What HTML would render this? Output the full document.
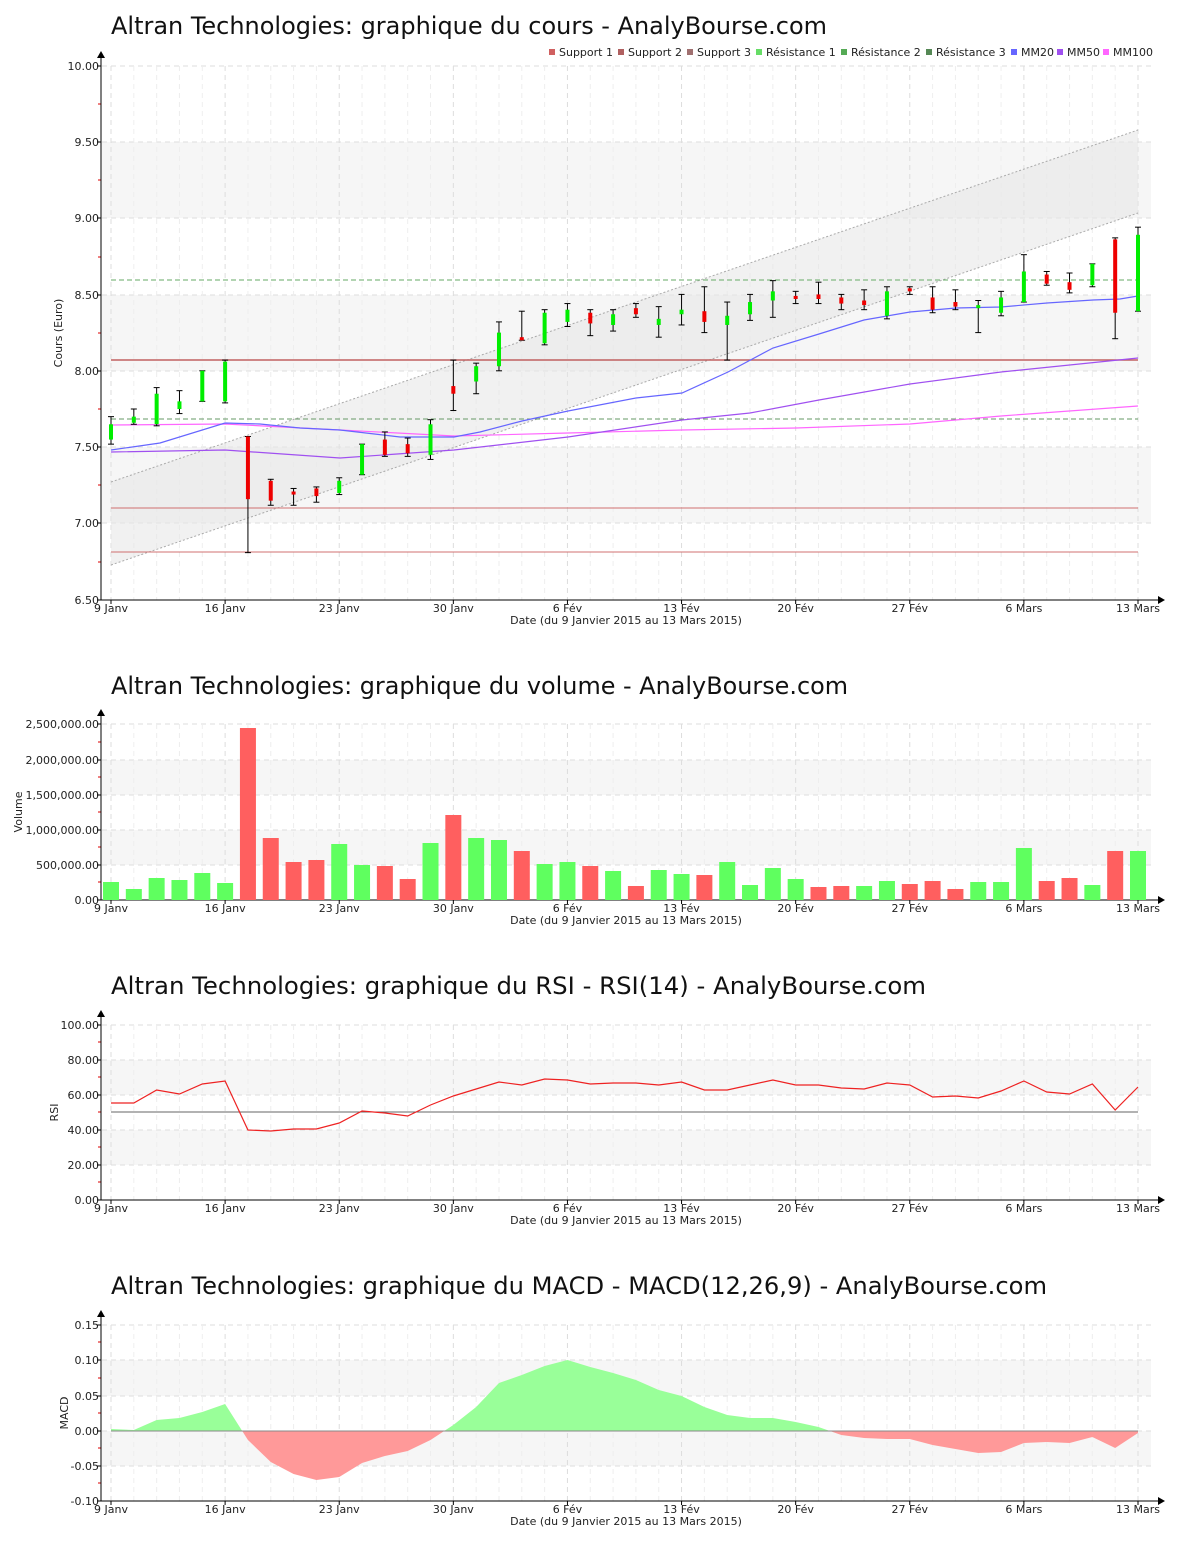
<!DOCTYPE html>
<html><head><meta charset="utf-8"><style>
body{margin:0;background:#fff;width:1200px;height:1550px;overflow:hidden}
svg{display:block}
text{font-family:"DejaVu Sans","Liberation Sans",sans-serif}
</style></head><body>
<svg id="s" width="1200" height="1550" xmlns="http://www.w3.org/2000/svg"></svg>
<script>
const S=document.getElementById('s');let h='';
const X=i=>111+i*(1138-111)/45;
const ticks=[[0,'9 Janv'],[5,'16 Janv'],[10,'23 Janv'],[15,'30 Janv'],[20,'6 Fév'],[25,'13 Fév'],[30,'20 Fév'],[35,'27 Fév'],[40,'6 Mars'],[45,'13 Mars']];
function frame(top,bot,title,ty,tl,ylab,ylx,ylabels,bands,minor){
 h+=`<text x="111" y="${ty}" font-size="24" fill="#111" textLength="${tl}" lengthAdjust="spacingAndGlyphs">${title}</text>`;
 bands.forEach(b=>h+=`<rect x="102" y="${b[0]}" width="1049" height="${b[1]-b[0]}" fill="#f6f6f6"/>`);
 ylabels.forEach(l=>{h+=`<line x1="102" x2="1151" y1="${l[0]}" y2="${l[0]}" stroke="#ddd" stroke-dasharray="5,4"/>`;
  h+=`<text x="99" y="${l[0]+4}" font-size="11" text-anchor="end" fill="#222">${l[1]}</text><line x1="97" x2="101" y1="${l[0]}" y2="${l[0]}" stroke="#000"/>`;});
 minor.forEach(y=>h+=`<line x1="98" x2="101" y1="${y}" y2="${y}" stroke="#d00"/>`);
 for(let i=0;i<46;i++){const x=X(i);const t=ticks.find(t=>t[0]==i);
  h+=`<line x1="${x}" x2="${x}" y1="${top}" y2="${bot}" stroke="${t?'#ddd':'#eee'}" stroke-dasharray="5,4"/>`;}
 ticks.forEach(t=>{const x=X(t[0]);h+=`<line x1="${x}" x2="${x}" y1="${bot}" y2="${bot+4}" stroke="#000"/><text x="${x}" y="${bot+12}" font-size="11" text-anchor="middle" fill="#222">${t[1]}</text>`;});
 h+=`<text x="626" y="${bot+24}" font-size="11" text-anchor="middle" fill="#222">Date (du 9 Janvier 2015 au 13 Mars 2015)</text>`;
 h+=`<text transform="translate(${ylx},${(top+bot)/2}) rotate(-90)" font-size="11" text-anchor="middle" fill="#222">${ylab}</text>`;
 h+=`<line x1="101" x2="101" y1="${top-12}" y2="${bot}" stroke="#000"/><line x1="101" x2="1160" y1="${bot}" y2="${bot}" stroke="#000"/>`;
 h+=`<polygon points="97,${top-8} 105,${top-8} 101,${top-15}" fill="#000"/><polygon points="1158,${bot-4} 1158,${bot+4} 1165,${bot}" fill="#000"/>`;
}
// Chart 1
const yP=v=>600-(v-6.5)*152.8;
frame(66,600,'Altran Technologies: graphique du cours - AnalyBourse.com',34,716,'Cours (Euro)',62,
 [[66,'10.00'],[142,'9.50'],[218,'9.00'],[295,'8.50'],[371,'8.00'],[447,'7.50'],[523,'7.00'],[600,'6.50']],
 [[142,218],[295,371],[447,523]],[104,180,257,333,409,485,562]);
h+=`<polygon points="111,482 1138,130 1138,213 111,565" fill="#e6e6e6" opacity="0.55"/>`;
h+=`<line x1="111" y1="482" x2="1138" y2="130" stroke="#aaa" stroke-dasharray="2,2"/><line x1="111" y1="565" x2="1138" y2="213" stroke="#aaa" stroke-dasharray="2,2"/>`;
h+=`<line x1="111" x2="1138" y1="360" y2="360" stroke="#c06060" stroke-width="1.5"/><line x1="111" x2="1138" y1="508" y2="508" stroke="#d07070"/><line x1="111" x2="1138" y1="552" y2="552" stroke="#d07070"/>`;
h+=`<line x1="111" x2="1138" y1="280" y2="280" stroke="#66aa66" stroke-dasharray="5,3"/><line x1="111" x2="1138" y1="419" y2="419" stroke="#669966" stroke-dasharray="5,3"/>`;
const pl=(p,c)=>h+=`<polyline points="${p}" fill="none" stroke="${c}" stroke-width="1.2"/>`;
pl('111,425 225,424 340,430 454,436 568,433 682,430 796,428 910,424 1001,416 1138,406','#ff66ff');
pl('111,452 225,450 340,458 454,450 568,437 682,420 750,413 819,400 910,384 1001,372 1138,358','#a050f0');
pl('111,450 160,443 225,423 260,424 300,428 340,430 400,437 454,437 480,432 522,421 568,411 636,398 682,393 728,372 773,348 819,334 864,320 910,312 956,308 1001,307 1047,303 1093,300 1120,299 1138,296','#6666ff');
const C=[[7.55,7.65,7.52,7.70],[7.66,7.70,7.65,7.75],[7.65,7.85,7.64,7.89],[7.75,7.80,7.72,7.87],[7.80,8.00,7.80,8.00],[7.80,8.06,7.79,8.07],[7.57,7.16,6.81,7.57],[7.28,7.15,7.12,7.29],[7.21,7.19,7.12,7.23],[7.23,7.18,7.14,7.24],[7.20,7.28,7.19,7.30],[7.32,7.52,7.32,7.52],[7.55,7.45,7.44,7.60],[7.52,7.46,7.44,7.56],[7.45,7.65,7.42,7.68],[7.90,7.85,7.74,8.07],[7.93,8.03,7.85,8.05],[8.03,8.25,8.00,8.32],[8.22,8.20,8.20,8.39],[8.18,8.38,8.17,8.40],[8.32,8.40,8.29,8.44],[8.38,8.31,8.23,8.40],[8.30,8.37,8.26,8.40],[8.41,8.37,8.35,8.44],[8.30,8.34,8.22,8.42],[8.37,8.40,8.30,8.50],[8.39,8.32,8.25,8.55],[8.30,8.36,8.07,8.45],[8.37,8.45,8.33,8.50],[8.46,8.52,8.35,8.59],[8.49,8.47,8.44,8.52],[8.50,8.47,8.44,8.58],[8.48,8.44,8.40,8.50],[8.46,8.43,8.40,8.53],[8.36,8.52,8.34,8.55],[8.54,8.52,8.50,8.55],[8.48,8.40,8.38,8.55],[8.45,8.42,8.40,8.53],[8.41,8.43,8.25,8.46],[8.38,8.48,8.36,8.52],[8.45,8.65,8.45,8.76],[8.63,8.57,8.56,8.65],[8.58,8.53,8.51,8.64],[8.56,8.70,8.55,8.70],[8.86,8.38,8.21,8.87],[8.39,8.89,8.39,8.94]];
C.forEach((c,i)=>{const x=X(i);const yh=yP(c[3]),yl=yP(c[2]);
 h+=`<line x1="${x}" x2="${x}" y1="${yh}" y2="${yl}" stroke="#000"/><line x1="${x-3}" x2="${x+3}" y1="${yh}" y2="${yh}" stroke="#000"/><line x1="${x-3}" x2="${x+3}" y1="${yl}" y2="${yl}" stroke="#000"/>`;
 const a=yP(Math.max(c[0],c[1])),b=yP(Math.min(c[0],c[1]));
 h+=`<rect x="${x-2}" y="${a}" width="4" height="${Math.max(b-a,3)}" fill="${c[1]>=c[0]?'#00ee00':'#ee0000'}"/>`;});
const leg=[['Support 1','#d06060',549],['Support 2','#b06060',618],['Support 3','#a07070',687],['Résistance 1','#66dd66',756],['Résistance 2','#55aa55',841],['Résistance 3','#558855',926],['MM20','#6666ff',1011],['MM50','#a050f0',1057],['MM100','#ff66ff',1103]];
leg.forEach(l=>h+=`<rect x="${l[2]}" y="49" width="6" height="6" fill="${l[1]}"/><text x="${l[2]+10}" y="56" font-size="11" fill="#222">${l[0]}</text>`);
// Chart 2
frame(724,900,'Altran Technologies: graphique du volume - AnalyBourse.com',694,737,'Volume',22,
 [[724,'2,500,000.00'],[760,'2,000,000.00'],[795,'1,500,000.00'],[830,'1,000,000.00'],[865,'500,000.00'],[900,'0.00']],
 [[760,795],[830,865]],[742,777,812,847,882]);
const V=[['g',882],['g',889],['g',878],['g',880],['g',873],['g',883],['r',728],['r',838],['r',862],['r',860],['g',844],['g',865],['r',866],['r',879],['g',843],['r',815],['g',838],['g',840],['r',851],['g',864],['g',862],['r',866],['g',871],['r',886],['g',870],['g',874],['r',875],['g',862],['g',885],['g',868],['g',879],['r',887],['r',886],['g',886],['g',881],['r',884],['r',881],['r',889],['g',882],['g',882],['g',848],['r',881],['r',878],['g',885],['r',851],['g',851]];
V.forEach((v,i)=>h+=`<rect x="${X(i)-8}" y="${v[1]}" width="16" height="${900-v[1]}" fill="${v[0]=='g'?'#5fff5f':'#ff5f5f'}"/>`);
// Chart 3
frame(1025,1200,'Altran Technologies: graphique du RSI - RSI(14) - AnalyBourse.com',994,815,'RSI',58,
 [[1025,'100.00'],[1060,'80.00'],[1095,'60.00'],[1130,'40.00'],[1165,'20.00'],[1200,'0.00']],
 [[1060,1095],[1130,1165]],[1042,1077,1112,1147,1182]);
h+=`<line x1="111" x2="1138" y1="1112" y2="1112" stroke="#666"/>`;
const R=[1103,1103,1090,1094,1084,1081,1130,1131,1129,1129,1123,1111,1113,1116,1105,1096,1089,1082,1085,1079,1080,1084,1083,1083,1085,1082,1090,1090,1085,1080,1085,1085,1088,1089,1083,1085,1097,1096,1098,1091,1081,1092,1094,1084,1110,1087];
pl(R.map((y,i)=>X(i)+','+y).join(' '),'#ee2222');
// Chart 4
frame(1325,1501,'Altran Technologies: graphique du MACD - MACD(12,26,9) - AnalyBourse.com',1294,936,'MACD',68,
 [[1325,'0.15'],[1360,'0.10'],[1396,'0.05'],[1431,'0.00'],[1466,'-0.05'],[1501,'-0.10']],
 [[1360,1396],[1431,1466]],[1342,1378,1413,1448,1483]);
const M=[1429,1430,1420,1418,1412,1404,1440,1462,1474,1480,1477,1463,1456,1451,1440,1425,1407,1383,1375,1366,1360,1367,1373,1380,1390,1396,1407,1415,1418,1418,1422,1427,1435,1438,1439,1439,1445,1449,1453,1452,1443,1442,1443,1437,1448,1433];
const poly='111,1431 '+M.map((y,i)=>X(i)+','+y).join(' ')+' 1138,1431';
h+=`<defs><clipPath id="ca"><rect x="100" y="1300" width="1060" height="131"/></clipPath><clipPath id="cb"><rect x="100" y="1431" width="1060" height="80"/></clipPath></defs>`;
h+=`<polygon points="${poly}" fill="#99ff99" clip-path="url(#ca)"/><polygon points="${poly}" fill="#ff9999" clip-path="url(#cb)"/>`;
h+=`<line x1="111" x2="1138" y1="1431" y2="1431" stroke="#888"/>`;
S.innerHTML=h;
</script>
</body></html>
